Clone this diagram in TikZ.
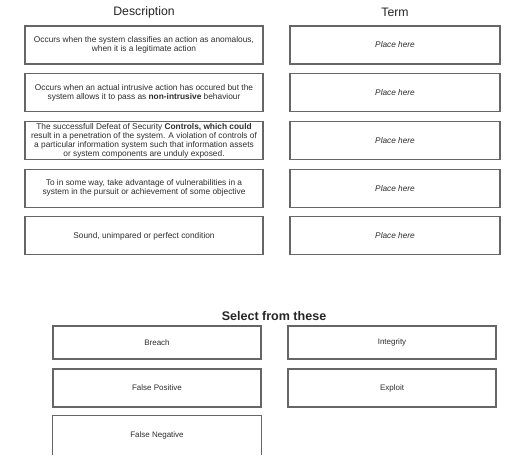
\documentclass[tikz,border=0pt]{standalone}
\usepackage{fontspec}
\setmainfont{Liberation Sans}
\usetikzlibrary{positioning}
\definecolor{boxline}{gray}{0.40}
\definecolor{ink}{gray}{0.18}
\tikzset{
  desc/.style={
    rectangle, draw=boxline, line width=0.8pt, fill=white,
    minimum width=178.5pt, minimum height=28.5pt, inner sep=1pt,
    align=center, text=ink, font=\fontsize{6.25}{6.75}\selectfont
  },
  slot/.style={
    rectangle, draw=boxline, line width=0.8pt, fill=white,
    minimum width=157.5pt, minimum height=28.5pt,
    align=center, text=ink, font=\fontsize{6.2}{7}\selectfont\itshape
  },
  choice/.style={
    rectangle, draw=boxline, line width=0.8pt, fill=white,
    minimum width=156pt, minimum height=28.5pt,
    align=center, text=ink, font=\fontsize{6}{7}\selectfont
  },
  heading/.style={text=black!85, font=\fontsize{9.2}{10}\selectfont}
}

\begin{document}
\begin{tikzpicture}[x=0.75pt, y=-0.75pt, node distance=6.5pt]
  \useasboundingbox (0,0) rectangle (527,467);

  % headings
  \node[heading] (deschead) at (144,12) {Description};
  \node[heading] (termhead) at (395,12) {Term};

  % descriptions
  \node[desc] (d1) at (144,45)
    {Occurs when the system classifies an action as anomalous,\\ when it is a legitimate action};
  \node[desc, below=of d1] (d2)
    {Occurs when an actual intrusive action has occured but the\\ system allows it to pass as \textbf{non-intrusive} behaviour};
  \node[desc, below=of d2] (d3)
    {The successfull Defeat of Security \textbf{Controls, which could}\\ result in a penetration of the system. A violation of controls of\\ a particular information system such that information assets\\ or system components are unduly exposed.};
  \node[desc, below=of d3] (d4)
    {To in some way, take advantage of vulnerabilities in a\\ system in the pursuit or achievement of some objective};
  \node[desc, below=of d4] (d5)
    {Sound, unimpared or perfect condition};

  % drop slots
  \node[slot] (t1) at (395,45) {Place here};
  \node[slot, below=of t1] (t2) {Place here};
  \node[slot, below=of t2] (t3) {Place here};
  \node[slot, below=of t3] (t4) {Place here};
  \node[slot, below=of t4] (t5) {Place here};

  % answer pool
  \node[heading, font=\fontsize{9.4}{10}\selectfont\bfseries] (poolhead) at (274,316) {Select from these};
  \node[choice, minimum height=24.75pt] (breach) at (157,342.5) {Breach};
  \node[choice, minimum height=24.75pt] (integrity) at (392,342.5) {Integrity};
  \node[choice] (falsepos) at (157,388) {False Positive};
  \node[choice] (exploit) at (392,388) {Exploit};
  \node[choice, draw=none] (falseneg) at (157,435) {False Negative};
  \draw[boxline, line width=0.8pt] (falseneg.south west) -- (falseneg.north west)
    -- (falseneg.north east) -- (falseneg.south east);
\end{tikzpicture}
\end{document}
